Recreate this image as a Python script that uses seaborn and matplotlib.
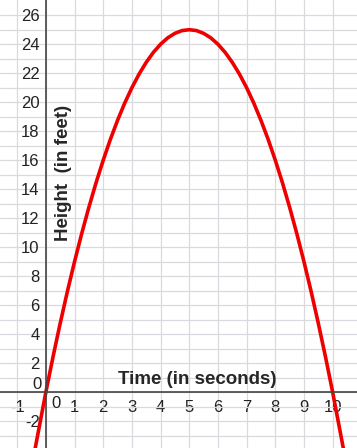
import matplotlib
matplotlib.use("Agg")
import matplotlib.pyplot as plt
import seaborn as sns

# time (s) and height (ft)
time_s = [-0.4, 0, 0.25, 0.5, 0.75, 1, 1.25, 1.5, 1.75, 2, 2.25, 2.5, 2.75, 3, 3.25, 3.5, 3.75, 4,
          4.25, 4.5, 4.75, 5, 5.25, 5.5, 5.75, 6, 6.25, 6.5, 6.75, 7, 7.25, 7.5, 7.75, 8, 8.25,
          8.5, 8.75, 9, 9.25, 9.5, 9.75, 10, 10.4]
height_ft = [-4.16, 0, 2.44, 4.75, 6.94, 9, 10.94, 12.75, 14.44, 16, 17.44, 18.75, 19.94, 21,
             21.94, 22.75, 23.44, 24, 24.44, 24.75, 24.94, 25, 24.94, 24.75, 24.44, 24, 23.44,
             22.75, 21.94, 21, 19.94, 18.75, 17.44, 16, 14.44, 12.75, 10.94, 9, 6.94, 4.75,
             2.44, 0, -4.16]

x_ticks = list(range(-1, 11))
x_labels = ['-1', '', '1', '2', '3', '4', '5', '6', '7', '8', '9', '10']
y_ticks = list(range(-3, 27))
y_labels = [str(v) if v % 2 == 0 and v != 0 else '' for v in y_ticks]

sns.set_style("white")
plt.rcParams['font.family'] = ['Liberation Sans', 'DejaVu Sans']
plt.rcParams['axes.unicode_minus'] = False

fig = plt.figure(figsize=(3.57, 4.48), dpi=100)
ax = fig.add_axes([0, 0, 1, 1])

sns.lineplot(x=time_s, y=height_ft, sort=False, estimator=None, color='#ee0000', lw=2.6, ax=ax)

ax.set_xlim(-1.6, 10.85)
ax.set_ylim(-3.86, 27.05)

ax.set_xticks(x_ticks)
ax.set_xticklabels(x_labels)
ax.set_yticks(y_ticks)
ax.set_yticklabels(y_labels)
ax.grid(True, color='#d9d9de', lw=0.9)
ax.set_axisbelow(True)

for side in ['top', 'right']:
    ax.spines[side].set_visible(False)
ax.spines['left'].set_position(('data', 0))
ax.spines['bottom'].set_position(('data', 0))
for side in ['left', 'bottom']:
    ax.spines[side].set_color('#444444')
    ax.spines[side].set_linewidth(1.2)

fs = 12
ax.tick_params(axis='x', direction='in', length=3, pad=6, labelsize=fs, color='#444444', labelcolor='#222222')
ax.tick_params(axis='y', direction='out', length=3, pad=1.5, labelsize=fs, color='#444444', labelcolor='#222222')

ax.text(0.36, -0.3, '0', ha='center', va='top', fontsize=fs, color='#222222')
ax.text(-0.15, 0.5, '0', ha='right', va='center', fontsize=fs, color='#222222')

ax.text(5.27, 0.9, 'Time (in seconds)', ha='center', va='center', fontsize=13.5, fontweight='bold')
ax.text(0.6, 15.1, 'Height  (in feet)', ha='center', va='center', rotation=90, fontsize=13.5,
        fontweight='bold')

fig.savefig('out.png', dpi=100)
